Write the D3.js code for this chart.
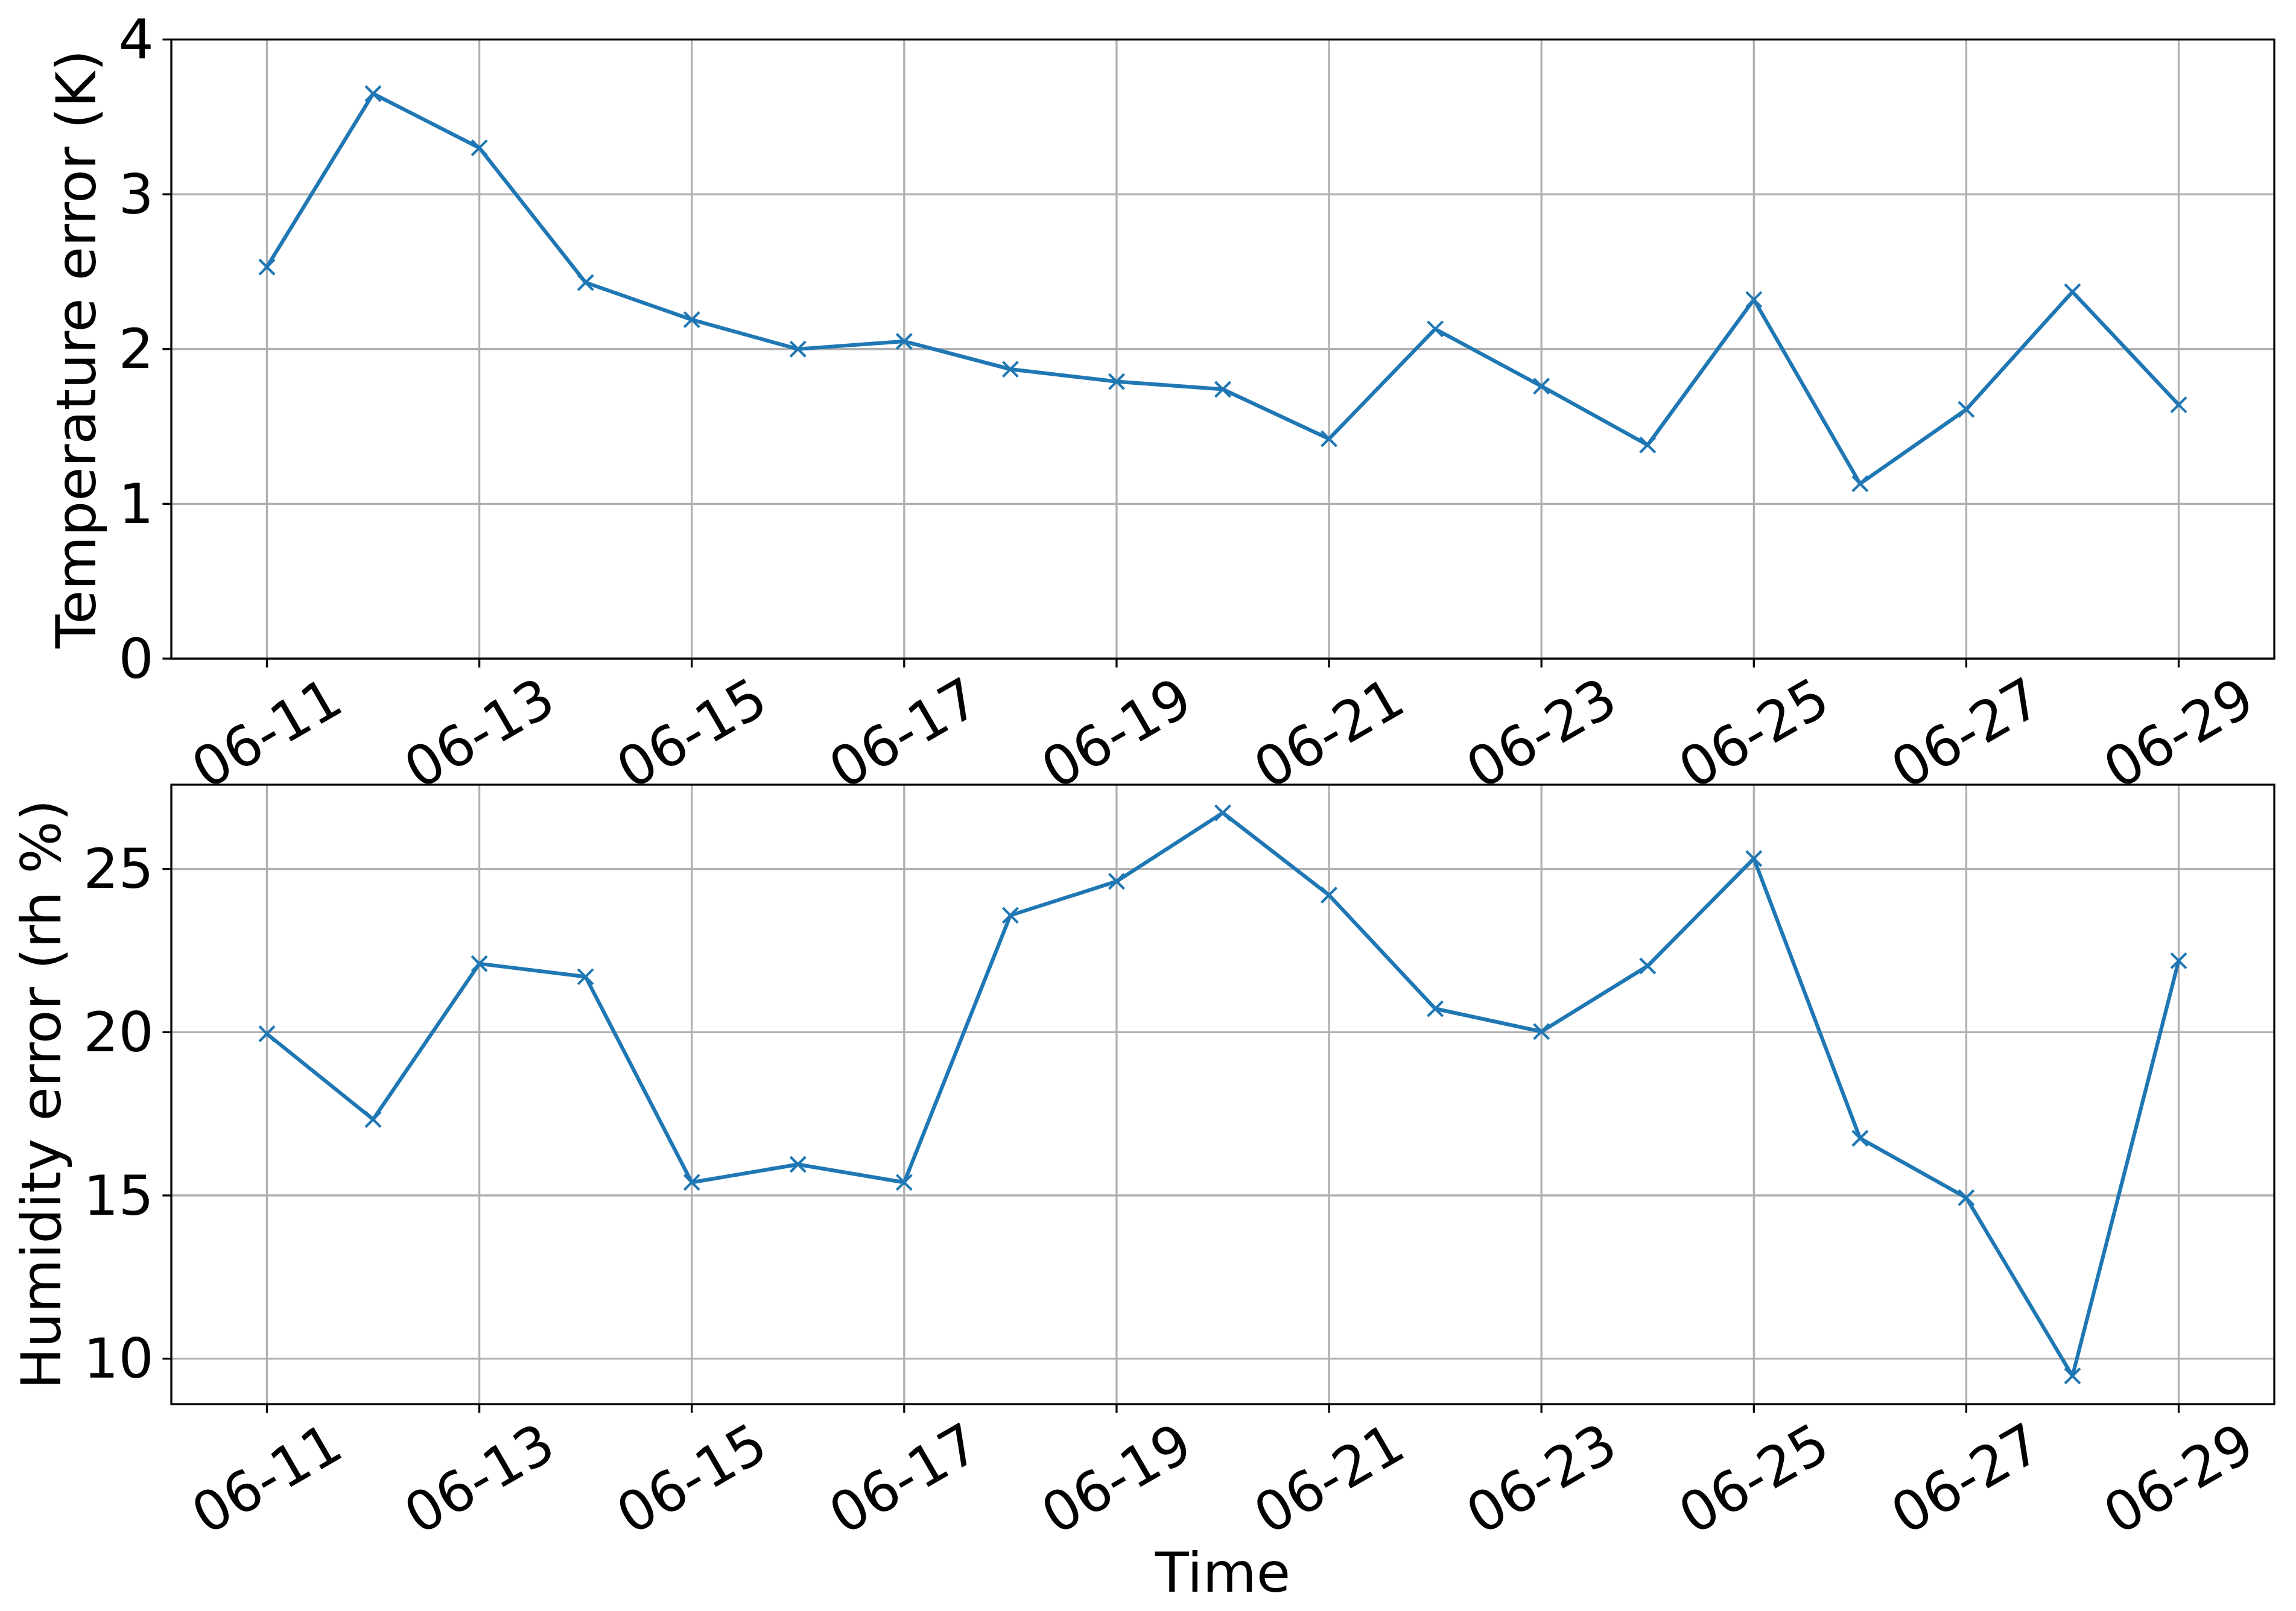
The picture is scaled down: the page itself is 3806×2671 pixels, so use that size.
<!DOCTYPE html>
<html lang="en">
<head>
  <meta charset="UTF-8">
  <title>Temperature and humidity error</title>
  <style>
    * { margin: 0; padding: 0; }
    body { background: #ffffff; }
    svg text { font-family: 'DejaVu Sans', sans-serif; fill: #000; }
  </style>
  <script src="https://cdn.jsdelivr.net/npm/d3@7/dist/d3.min.js"></script>
</head>
<body>
  <svg id="chart" width="3806" height="2671"></svg>
  <script>
    // values
    const days = ['06-11', '06-12', '06-13', '06-14', '06-15', '06-16', '06-17', '06-18', '06-19', '06-20',
                  '06-21', '06-22', '06-23', '06-24', '06-25', '06-26', '06-27', '06-28', '06-29'];
    const tempError = [2.53, 3.65, 3.30, 2.43, 2.19, 2.00, 2.05, 1.87, 1.79, 1.74,
                       1.42, 2.13, 1.76, 1.38, 2.32, 1.13, 1.61, 2.37, 1.64];
    const humError = [19.95, 17.33, 22.10, 21.70, 15.40, 15.95, 15.40, 23.58, 24.62, 26.72,
                      24.20, 20.72, 20.02, 22.03, 25.32, 16.75, 14.93, 9.47, 22.19];
    const tempTicks = [0, 1, 2, 3, 4];
    const humTicks = [10, 15, 20, 25];

    const FS = 91.7;            // 22pt at 300 dpi
    const TICK = 14.6, PAD = 14.6, LABELPAD = 16.7;
    const blue = '#1f77b4', gridCol = '#b0b0b0';
    const left = 284, right = 3770;

    const parse = d3.timeParse('%m-%d');
    const dates = days.map(parse);
    const fmt = d3.timeFormat('%m-%d');

    const svg = d3.select('#chart');

    // x domain with matplotlib style 5% margins
    const ext = d3.extent(dates);
    const span = ext[1] - ext[0];
    const x = d3.scaleTime()
      .domain([new Date(+ext[0] - span * 0.05), new Date(+ext[1] + span * 0.05)])
      .range([left, right]);
    const xTicks = d3.timeDay.range(ext[0], d3.timeDay.offset(ext[1], 1), 2);

    function panel(values, yDomain, yTicks, top, bottom, yLabel, xLabel) {
      const y = d3.scaleLinear().domain(yDomain).range([bottom, top]);
      const g = svg.append('g');

      // grid
      g.append('g').selectAll('line').data(xTicks).join('line')
        .attr('x1', d => x(d)).attr('x2', d => x(d)).attr('y1', top).attr('y2', bottom)
        .attr('stroke', gridCol).attr('stroke-width', 3.3);
      g.append('g').selectAll('line').data(yTicks).join('line')
        .attr('x1', left).attr('x2', right).attr('y1', d => y(d)).attr('y2', d => y(d))
        .attr('stroke', gridCol).attr('stroke-width', 3.3);

      // line + x markers
      const line = d3.line().x((d, i) => x(dates[i])).y(d => y(d));
      g.append('path').datum(values).attr('d', line)
        .attr('fill', 'none').attr('stroke', blue).attr('stroke-width', 6.25)
        .attr('stroke-linejoin', 'round').attr('stroke-linecap', 'square');
      const m = 12.5;
      g.append('g').selectAll('path').data(values).join('path')
        .attr('d', (d, i) => {
          const cx = x(dates[i]), cy = y(d);
          return `M${cx - m},${cy - m}L${cx + m},${cy + m}M${cx - m},${cy + m}L${cx + m},${cy - m}`;
        })
        .attr('stroke', blue).attr('stroke-width', 4.2).attr('fill', 'none');

      // frame
      g.append('rect').attr('x', left).attr('y', top)
        .attr('width', right - left).attr('height', bottom - top)
        .attr('fill', 'none').attr('stroke', '#000').attr('stroke-width', 3.3);

      // y ticks
      g.append('g').selectAll('line').data(yTicks).join('line')
        .attr('x1', left - TICK).attr('x2', left).attr('y1', d => y(d)).attr('y2', d => y(d))
        .attr('stroke', '#000').attr('stroke-width', 3.3);
      const yl = g.append('g').selectAll('text').data(yTicks).join('text')
        .attr('x', left - TICK - PAD).attr('y', d => y(d))
        .attr('text-anchor', 'end').attr('dominant-baseline', 'central')
        .attr('font-size', FS).text(d => d);
      let maxW = 0;
      yl.each(function () { maxW = Math.max(maxW, this.getComputedTextLength()); });

      // y label
      const labelRight = left - TICK - PAD - maxW - LABELPAD;
      g.append('text')
        .attr('transform', `translate(${labelRight - FS * 0.236},${(top + bottom) / 2}) rotate(-90)`)
        .attr('text-anchor', 'middle').attr('font-size', FS).text(yLabel);

      // x ticks, labels rotated 30 degrees
      g.append('g').selectAll('line').data(xTicks).join('line')
        .attr('x1', d => x(d)).attr('x2', d => x(d)).attr('y1', bottom).attr('y2', bottom + TICK)
        .attr('stroke', '#000').attr('stroke-width', 3.3);
      g.append('g').selectAll('text').data(xTicks).join('text')
        .attr('text-anchor', 'middle').attr('dominant-baseline', 'central')
        .attr('font-size', FS).text(d => fmt(d))
        .attr('transform', d => `translate(${x(d)},${bottom + 124}) rotate(-30)`);

      if (xLabel) {
        g.append('text')
          .attr('x', (left + right) / 2)
          .attr('y', bottom + 311)
          .attr('text-anchor', 'middle').attr('font-size', FS).text(xLabel);
      }
    }

    // top: temperature, fixed limits 0..4
    panel(tempError, [0, 4], tempTicks, 65.5, 1092, 'Temperature error (K)', null);

    // bottom: humidity, auto limits with 5% margin
    const hExt = d3.extent(humError);
    const hPad = (hExt[1] - hExt[0]) * 0.05;
    panel(humError, [hExt[0] - hPad, hExt[1] + hPad], humTicks, 1301, 2328, 'Humidity error (rh %)', 'Time');
  </script>
</body>
</html>
